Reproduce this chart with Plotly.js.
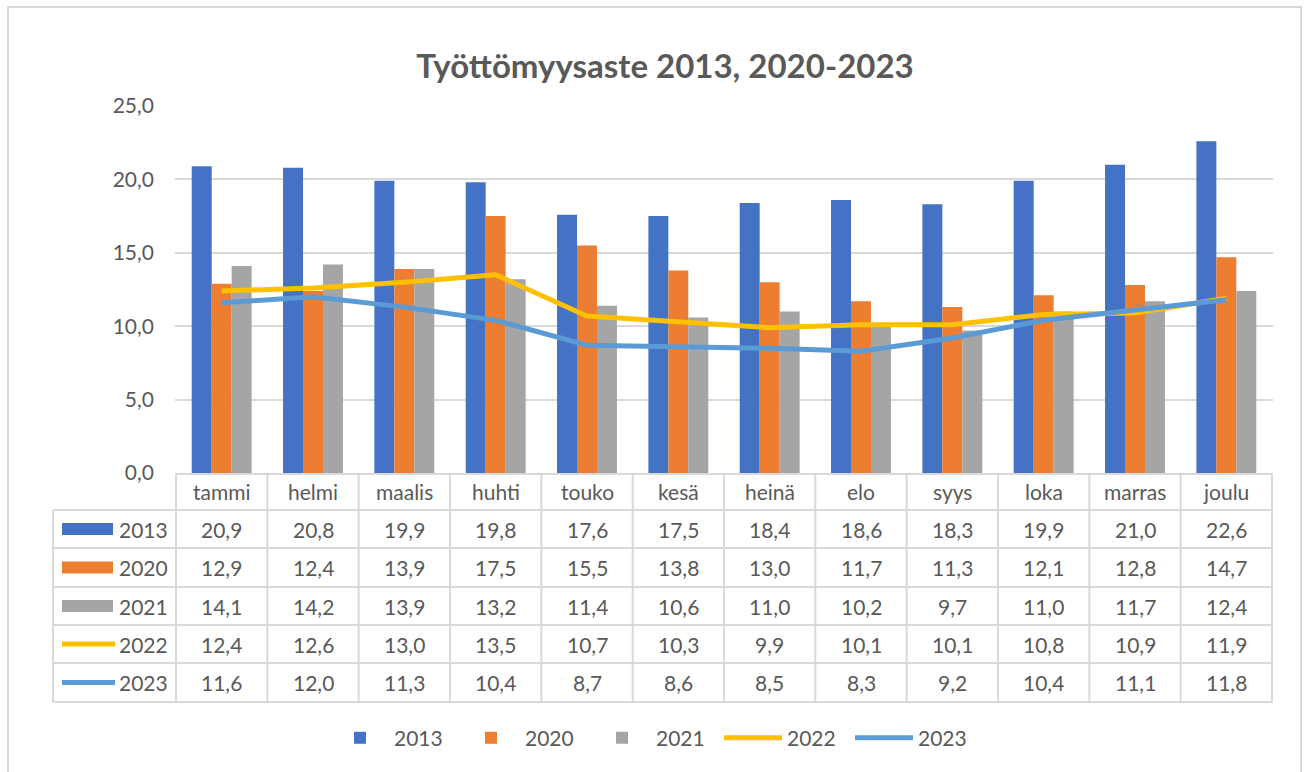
<!DOCTYPE html>
<html>
<head>
<meta charset="utf-8">
<script src="https://cdn.plot.ly/plotly-3.0.1.min.js"></script>
<style>
  html, body { margin: 0; padding: 0; background: #ffffff; }
  #chart { width: 1304px; height: 772px; }
</style>
</head>
<body>
<div id="chart"></div>
<script>
// Data
const months = ['tammi', 'helmi', 'maalis', 'huhti', 'touko', 'kesä', 'heinä', 'elo', 'syys', 'loka', 'marras', 'joulu'];
const years = ['2013', '2020', '2021', '2022', '2023'];
const v2013 = [20.9, 20.8, 19.9, 19.8, 17.6, 17.5, 18.4, 18.6, 18.3, 19.9, 21.0, 22.6];
const v2020 = [12.9, 12.4, 13.9, 17.5, 15.5, 13.8, 13.0, 11.7, 11.3, 12.1, 12.8, 14.7];
const v2021 = [14.1, 14.2, 13.9, 13.2, 11.4, 10.6, 11.0, 10.2, 9.7, 11.0, 11.7, 12.4];
const v2022 = [12.4, 12.6, 13.0, 13.5, 10.7, 10.3, 9.9, 10.1, 10.1, 10.8, 10.9, 11.9];
const v2023 = [11.6, 12.0, 11.3, 10.4, 8.7, 8.6, 8.5, 8.3, 9.2, 10.4, 11.1, 11.8];

const W = 1304, H = 772;
const colors = ['#4472C4', '#ED7D31', '#A5A5A5', '#FFC000', '#5B9BD5'];
const textGray = '#595959';
const gridGray = '#D9D9D9';
const fontFam = 'Lato, "Open Sans", sans-serif';

// pixel helpers (paper coords)
function px(x) { return x / W; }
function py(y) { return (H - y) / H; }

const allValues = [v2013, v2020, v2021, v2022, v2023];

const traces = [];
for (let i = 0; i < 3; i++) {
  traces.push({
    type: 'bar',
    name: years[i],
    x: months,
    y: allValues[i],
    marker: { color: colors[i] },
    hoverinfo: 'x+y+name'
  });
}
for (let i = 3; i < 5; i++) {
  traces.push({
    type: 'scatter',
    mode: 'lines',
    name: years[i],
    x: months,
    y: allValues[i],
    line: { color: colors[i], width: 5 },
    hoverinfo: 'x+y+name'
  });
}

// Data table below the plot
const plotLeft = 175, plotRight = 1273, tableLeft = 53;
const headerTop = 473, headerMid = 491;
const rowLines = [510, 548, 587, 625, 663, 702];
const rowMids = [529, 567.5, 606, 644, 682.5];

const shapes = [];
const annotations = [];

// outer border
shapes.push({
  type: 'rect', xref: 'paper', yref: 'paper',
  x0: px(8), x1: px(1301), y0: py(7), y1: py(780),
  line: { color: gridGray, width: 2 }
});

// horizontal table lines
rowLines.forEach(function(y) {
  shapes.push({
    type: 'line', xref: 'paper', yref: 'paper',
    x0: px(tableLeft), x1: px(plotRight), y0: py(y), y1: py(y),
    line: { color: gridGray, width: 2 }
  });
});
// left edge of table
shapes.push({
  type: 'line', xref: 'paper', yref: 'paper',
  x0: px(tableLeft), x1: px(tableLeft), y0: py(rowLines[0]), y1: py(rowLines[5]),
  line: { color: gridGray, width: 2 }
});
// column separators on category scale
for (let i = 0; i <= months.length; i++) {
  shapes.push({
    type: 'line', xref: 'x', yref: 'paper',
    x0: i - 0.5, x1: i - 0.5, y0: py(headerTop), y1: py(rowLines[5]),
    line: { color: gridGray, width: 2 }
  });
}

// header labels
months.forEach(function(m) {
  annotations.push({
    xref: 'x', yref: 'paper', x: m, y: py(headerMid),
    text: m, showarrow: false, xanchor: 'center', yanchor: 'middle',
    font: { family: fontFam, size: 21, color: textGray }
  });
});

// rows: legend key, year and values
years.forEach(function(yr, r) {
  const yc = rowMids[r];
  if (r < 3) {
    shapes.push({
      type: 'rect', xref: 'paper', yref: 'paper',
      x0: px(62), x1: px(113), y0: py(yc - 6), y1: py(yc + 6),
      fillcolor: colors[r], line: { width: 0 }
    });
  } else {
    shapes.push({
      type: 'line', xref: 'paper', yref: 'paper',
      x0: px(62), x1: px(115), y0: py(yc), y1: py(yc),
      line: { color: colors[r], width: 5 }
    });
  }
  annotations.push({
    xref: 'paper', yref: 'paper', x: px(117), y: py(yc),
    text: yr, showarrow: false, xanchor: 'left', yanchor: 'middle',
    font: { family: fontFam, size: 21, color: textGray }
  });
  allValues[r].forEach(function(v, c) {
    annotations.push({
      xref: 'x', yref: 'paper', x: months[c], y: py(yc),
      text: v.toFixed(1).replace('.', ','), showarrow: false,
      xanchor: 'center', yanchor: 'middle',
      font: { family: fontFam, size: 21, color: textGray }
    });
  });
});

const layout = {
  width: W,
  height: H,
  margin: { l: 0, r: 0, t: 0, b: 0, autoexpand: false },
  paper_bgcolor: '#ffffff',
  plot_bgcolor: '#ffffff',
  separators: ', ',
  font: { family: fontFam, color: textGray, size: 21 },
  title: {
    text: '<b>Työttömyysaste 2013, 2020-2023</b>',
    x: 0.51, xanchor: 'center',
    y: py(66), yanchor: 'middle',
    font: { family: fontFam, size: 33, color: textGray }
  },
  barmode: 'group',
  bargap: 0.344,
  bargroupgap: 0,
  xaxis: {
    domain: [px(plotLeft), px(plotRight)],
    type: 'category',
    showticklabels: false,
    showgrid: false,
    showline: true,
    linecolor: gridGray,
    linewidth: 2,
    ticks: '',
    fixedrange: true
  },
  yaxis: {
    domain: [py(headerTop), py(106)],
    range: [0, 25],
    dtick: 5,
    tickformat: '.1f',
    showgrid: true,
    gridcolor: gridGray,
    gridwidth: 2,
    zeroline: false,
    showline: false,
    ticks: '',
    ticklabelstandoff: 20,
    tickfont: { family: fontFam, size: 21, color: textGray },
    fixedrange: true
  },
  showlegend: true,
  legend: {
    orientation: 'h',
    x: px(326), xanchor: 'left',
    y: py(738), yanchor: 'middle',
    itemwidth: 58,
    entrywidth: 58,
    entrywidthmode: 'pixels',
    font: { family: fontFam, size: 21, color: textGray },
    traceorder: 'normal'
  },
  shapes: shapes,
  annotations: annotations
};

Plotly.newPlot('chart', traces, layout, { displayModeBar: false, responsive: false });
</script>
</body>
</html>
